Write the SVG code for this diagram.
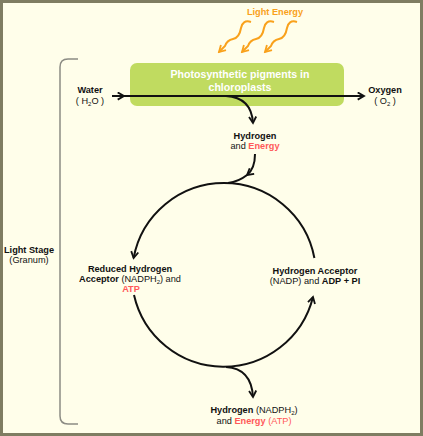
<svg xmlns="http://www.w3.org/2000/svg" width="423" height="436" viewBox="0 0 423 436">
<style>
text{font-family:"Liberation Sans",Arial,sans-serif;font-size:9.2px;fill:#111;text-anchor:middle}
.b{font-weight:bold}
.r{fill:#ff5959}
.w{fill:#fff;font-weight:bold;font-size:10.6px}
.o{fill:#f9a11b;font-weight:bold;font-size:9.2px}
.ln{fill:none;stroke:#111;stroke-width:2}
.ray{fill:none;stroke:#f9a11b;stroke-width:2}
</style>
<defs>
<marker id="ah" viewBox="0 0 10 10" refX="8" refY="5" markerWidth="4.5" markerHeight="4.5" orient="auto" markerUnits="strokeWidth">
<path d="M1,1 L8,5 L1,9" fill="none" stroke="#111" stroke-width="2"/>
</marker>
<marker id="oh" viewBox="0 0 10 10" refX="8" refY="5" markerWidth="4.5" markerHeight="4.5" orient="auto" markerUnits="strokeWidth">
<path d="M1,1 L8,5 L1,9" fill="none" stroke="#f9a11b" stroke-width="2"/>
</marker>
</defs>
<rect x="1.5" y="1.5" width="420" height="433" fill="#fffeea" stroke="#7f7d62" stroke-width="3"/>
<g id="bracket"><path d="M78,59 L68,59 Q60,59 60,67 L60,416 Q60,424 68,424 L78,424" fill="none" stroke="#8c8c84" stroke-width="1.5"/></g>
<g id="light">
<text class="o" x="275" y="15">Light Energy</text>
<path class="ray" marker-end="url(#oh)" d="M251,22 C245,20 242,23 241,28 C240,34 238,38 233,39 C228,40 226,43 225,46 L219,52"/>
<path class="ray" marker-end="url(#oh)" d="M274,22 C268,20 265,23 264,28 C263,34 261,38 256,39 C251,40 249,43 248,46 L242,52"/>
<path class="ray" marker-end="url(#oh)" d="M297,22 C291,20 288,23 287,28 C286,34 284,38 279,39 C274,40 272,43 271,46 L265,52"/>
</g>
<g id="pigments">
<rect x="130" y="63" width="214" height="43" rx="7" fill="#c0db60"/>
<text class="w" x="240" y="78">Photosynthetic pigments in</text>
<text class="w" x="240" y="91">chloroplasts</text>
</g>
<g id="water"><text class="b" x="90" y="93">Water</text><text x="90" y="104">( H<tspan font-size="6" dy="2">2</tspan><tspan dy="-2">O )</tspan></text></g>
<g id="oxygen"><text class="b" x="385" y="93">Oxygen</text><text x="385" y="104">( O<tspan font-size="6" dy="2">2</tspan><tspan dy="-2"> )</tspan></text></g>
<g id="hydrogen-energy"><text class="b" x="255" y="139">Hydrogen</text><text x="255" y="149">and <tspan class="b r">Energy</tspan></text></g>
<g id="reduced"><text class="b" x="130" y="272">Reduced Hydrogen</text><text x="130" y="282"><tspan class="b">Acceptor</tspan> (NADPH<tspan font-size="6" dy="2">2</tspan><tspan dy="-2">) and</tspan></text><text class="b r" x="131" y="292">ATP</text></g>
<g id="acceptor"><text class="b" x="315" y="274">Hydrogen Acceptor</text><text x="315" y="284">(NADP) and <tspan class="b">ADP + PI</tspan></text></g>
<g id="stage"><text class="b" x="29" y="253">Light Stage</text><text x="29" y="263">(Granum)</text></g>
<g id="output"><text x="254" y="413"><tspan class="b">Hydrogen</tspan> (NADPH<tspan font-size="6" dy="2">2</tspan><tspan dy="-2">)</tspan></text><text x="254" y="424">and <tspan class="b r">Energy</tspan><tspan class="r"> (ATP)</tspan></text></g>
<g id="connectors">
<path class="ln" marker-mid="url(#ah)" marker-end="url(#ah)" d="M112,96 L124,96 L364,96"/>
<path class="ln" marker-end="url(#ah)" d="M226,96 C244,97 252,107 253,123"/>
<path class="ln" marker-end="url(#ah)" d="M255,154 C255,164 252,171 247,175"/>
<path class="ln" d="M247,175 C242,179 236,182 228,183"/>
<path class="ln" marker-end="url(#ah)" d="M314.4,258 A92,92 0 0 0 133.6,258"/>
<path class="ln" marker-end="url(#ah)" d="M134,295 A92,92 0 0 0 313,297"/>
<path class="ln" marker-end="url(#ah)" d="M226,367 C244,368 252,380 253,397"/>
</g>
</svg>
